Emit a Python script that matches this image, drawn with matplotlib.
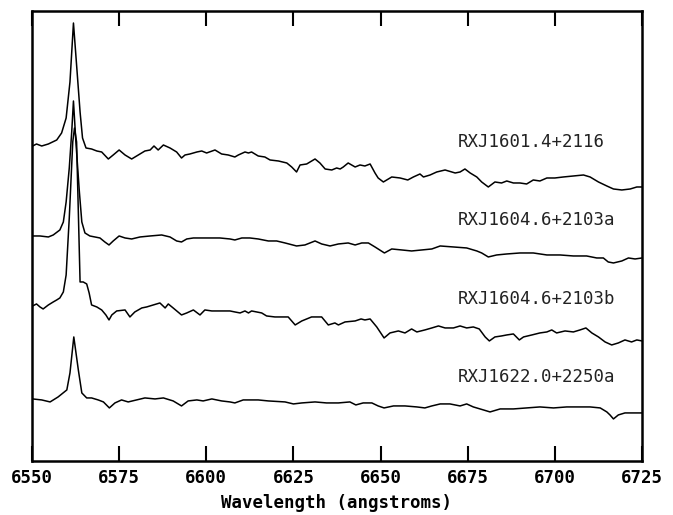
import matplotlib
matplotlib.use("Agg")
import matplotlib.pyplot as plt

# spectra: wavelength (angstroms) and offset relative flux
wave1 = [6550.2, 6551.3, 6552.8, 6554.7, 6557.1, 6558.5, 6559.8, 6560.9, 6561.9, 6562.8,
         6563.8, 6564.5, 6565.5, 6567.1, 6568.6, 6570.0, 6571.9, 6573.3, 6575.0, 6576.7,
         6578.6, 6580.5, 6582.4, 6583.9, 6585.0, 6586.2, 6587.7, 6589.6, 6591.5, 6592.9,
         6593.9, 6595.3, 6597.3, 6598.7, 6600.1, 6602.5, 6604.4, 6606.3, 6608.2, 6609.2,
         6611.1, 6612.1, 6613.0, 6614.9, 6616.8, 6618.3, 6620.7, 6623.1, 6624.5, 6625.9,
         6626.9, 6628.8, 6631.2, 6632.6, 6634.1, 6636.0, 6637.4, 6638.4, 6639.3, 6640.7,
         6642.7, 6644.1, 6645.5, 6647.0, 6648.4, 6649.3, 6650.8, 6653.2, 6655.6, 6657.8,
         6659.4, 6661.3, 6662.3, 6664.2, 6666.1, 6668.5, 6671.4, 6672.8, 6674.2, 6675.7,
         6677.6, 6679.0, 6680.9, 6682.8, 6684.7, 6686.2, 6688.1, 6690.0, 6691.9, 6693.8,
         6695.7, 6697.7, 6700.0, 6702.4, 6705.3, 6708.2, 6710.1, 6712.5, 6714.9, 6716.8,
         6719.2, 6721.6, 6723.5, 6725.0]
flux1 = [3.15, 3.17, 3.15, 3.17, 3.21, 3.28, 3.43, 3.79, 4.38, 3.96,
         3.49, 3.23, 3.13, 3.12, 3.10, 3.09, 3.02, 3.06, 3.11, 3.06,
         3.02, 3.06, 3.10, 3.11, 3.15, 3.11, 3.16, 3.13, 3.09, 3.03,
         3.06, 3.07, 3.09, 3.10, 3.08, 3.11, 3.07, 3.06, 3.04, 3.06,
         3.09, 3.08, 3.09, 3.05, 3.04, 3.01, 3.00, 2.98, 2.94, 2.89,
         2.96, 2.97, 3.02, 2.98, 2.92, 2.91, 2.93, 2.92, 2.94, 2.98,
         2.94, 2.96, 2.95, 2.97, 2.88, 2.83, 2.79, 2.84, 2.83, 2.81,
         2.84, 2.87, 2.84, 2.86, 2.89, 2.91, 2.88, 2.89, 2.92, 2.88,
         2.84, 2.79, 2.74, 2.79, 2.78, 2.80, 2.78, 2.78, 2.77, 2.81,
         2.80, 2.83, 2.83, 2.84, 2.85, 2.86, 2.84, 2.79, 2.75, 2.72,
         2.71, 2.72, 2.74, 2.74]

wave2 = [6550.4, 6552.3, 6554.7, 6556.1, 6558.0, 6559.0, 6559.8, 6560.7, 6561.4, 6561.9,
         6562.6, 6563.6, 6564.3, 6565.2, 6566.6, 6569.5, 6570.9, 6572.1, 6573.3, 6575.0,
         6576.7, 6578.6, 6581.0, 6583.9, 6587.2, 6589.6, 6591.5, 6592.9, 6594.4, 6596.3,
         6599.1, 6601.6, 6603.9, 6606.8, 6608.2, 6610.2, 6612.5, 6614.9, 6617.8, 6620.2,
         6622.6, 6625.9, 6628.3, 6631.2, 6633.1, 6635.5, 6637.9, 6640.7, 6642.7, 6644.6,
         6646.5, 6648.4, 6651.1, 6653.2, 6656.1, 6658.9, 6661.8, 6664.7, 6667.1, 6670.9,
         6674.7, 6677.6, 6679.0, 6680.9, 6683.3, 6686.2, 6690.0, 6693.8, 6697.7, 6701.5,
         6705.3, 6709.1, 6712.0, 6713.9, 6715.3, 6716.8, 6719.2, 6721.1, 6723.0, 6725.0]
flux2 = [2.25, 2.25, 2.24, 2.26, 2.31, 2.39, 2.59, 2.93, 3.29, 3.60,
         3.19, 2.69, 2.39, 2.28, 2.25, 2.23, 2.19, 2.16, 2.20, 2.25,
         2.23, 2.22, 2.24, 2.25, 2.26, 2.24, 2.20, 2.19, 2.22, 2.23,
         2.23, 2.23, 2.23, 2.22, 2.21, 2.23, 2.23, 2.22, 2.20, 2.20,
         2.18, 2.15, 2.16, 2.20, 2.17, 2.15, 2.17, 2.18, 2.16, 2.18,
         2.18, 2.14, 2.08, 2.12, 2.11, 2.10, 2.11, 2.12, 2.15, 2.14,
         2.13, 2.10, 2.08, 2.04, 2.06, 2.07, 2.08, 2.08, 2.06, 2.06,
         2.05, 2.05, 2.03, 2.03, 1.99, 1.98, 2.00, 2.03, 2.02, 2.03]

wave3 = [6550.2, 6551.3, 6552.3, 6553.2, 6554.7, 6556.1, 6557.1, 6558.0, 6559.0, 6559.8,
         6560.7, 6561.7, 6562.2, 6562.8, 6563.8, 6564.7, 6565.7, 6566.4, 6567.1, 6568.6,
         6570.0, 6571.2, 6572.1, 6572.9, 6574.3, 6576.7, 6578.1, 6579.5, 6581.5, 6582.9,
         6584.8, 6586.7, 6588.2, 6589.1, 6590.5, 6592.9, 6594.4, 6596.3, 6598.2, 6599.6,
         6601.6, 6604.4, 6606.8, 6608.2, 6609.7, 6611.1, 6612.1, 6613.0, 6615.9, 6617.3,
         6619.7, 6623.5, 6625.5, 6627.4, 6630.2, 6633.1, 6635.0, 6636.9, 6637.9, 6639.8,
         6642.7, 6644.4, 6645.5, 6647.0, 6648.9, 6651.0, 6652.7, 6655.1, 6657.0, 6658.9,
         6660.4, 6662.7, 6664.7, 6666.6, 6668.5, 6670.9, 6672.8, 6674.7, 6676.6, 6678.3,
         6680.0, 6681.2, 6682.8, 6684.7, 6686.2, 6688.1, 6689.8, 6691.0, 6693.4, 6695.7,
         6697.7, 6699.1, 6700.5, 6702.9, 6705.3, 6707.2, 6708.9, 6710.6, 6712.5, 6714.4,
         6716.3, 6718.2, 6720.1, 6722.0, 6723.5, 6725.0]
flux3 = [1.55, 1.57, 1.54, 1.52, 1.56, 1.59, 1.61, 1.63, 1.69, 1.86,
         2.43, 3.19, 3.33, 3.19, 1.79, 1.79, 1.77, 1.68, 1.56, 1.54,
         1.51, 1.46, 1.41, 1.46, 1.50, 1.51, 1.44, 1.49, 1.53, 1.54,
         1.56, 1.58, 1.53, 1.57, 1.53, 1.46, 1.48, 1.51, 1.46, 1.51,
         1.50, 1.50, 1.50, 1.49, 1.48, 1.50, 1.48, 1.50, 1.48, 1.45,
         1.44, 1.44, 1.36, 1.40, 1.44, 1.44, 1.36, 1.38, 1.36, 1.39,
         1.40, 1.42, 1.41, 1.42, 1.34, 1.23, 1.28, 1.30, 1.28, 1.32,
         1.29, 1.31, 1.33, 1.35, 1.33, 1.33, 1.35, 1.33, 1.34, 1.32,
         1.24, 1.20, 1.24, 1.25, 1.26, 1.27, 1.21, 1.24, 1.26, 1.28,
         1.29, 1.31, 1.28, 1.30, 1.29, 1.31, 1.33, 1.28, 1.24, 1.19,
         1.16, 1.18, 1.21, 1.19, 1.21, 1.20]

wave4 = [6550.2, 6552.8, 6555.2, 6557.5, 6560.0, 6560.9, 6562.0, 6563.3, 6564.3, 6565.7,
         6567.1, 6569.0, 6570.5, 6572.2, 6573.8, 6575.7, 6577.6, 6580.0, 6582.4, 6585.3,
         6587.7, 6590.5, 6592.9, 6594.8, 6597.3, 6599.1, 6601.6, 6604.4, 6606.8, 6608.2,
         6610.6, 6614.9, 6617.8, 6622.6, 6625.0, 6627.4, 6631.2, 6634.5, 6637.9, 6641.2,
         6642.9, 6645.0, 6647.5, 6649.3, 6651.0, 6653.7, 6657.0, 6660.4, 6662.7, 6664.7,
         6667.1, 6669.9, 6672.8, 6674.7, 6676.6, 6679.5, 6681.4, 6684.3, 6688.1, 6691.9,
         6695.7, 6699.6, 6703.4, 6707.2, 6710.1, 6713.0, 6714.9, 6715.8, 6716.8, 6718.2,
         6720.1, 6722.5, 6725.0]
flux4 = [0.62, 0.61, 0.59, 0.64, 0.71, 0.88, 1.24, 0.91, 0.68, 0.63,
         0.63, 0.61, 0.59, 0.53, 0.58, 0.61, 0.59, 0.61, 0.63, 0.62,
         0.63, 0.60, 0.55, 0.60, 0.61, 0.60, 0.62, 0.60, 0.59, 0.58,
         0.61, 0.61, 0.60, 0.59, 0.57, 0.58, 0.59, 0.58, 0.58, 0.59,
         0.56, 0.58, 0.58, 0.55, 0.53, 0.55, 0.55, 0.54, 0.53, 0.55,
         0.57, 0.57, 0.55, 0.57, 0.54, 0.51, 0.49, 0.52, 0.52, 0.53,
         0.54, 0.53, 0.54, 0.54, 0.54, 0.53, 0.49, 0.46, 0.42, 0.46,
         0.48, 0.48, 0.48]

names = ["RXJ1601.4+2116", "RXJ1604.6+2103a", "RXJ1604.6+2103b", "RXJ1622.0+2250a"]
label_y = [3.19, 2.405, 1.62, 0.835]
label_x = 6672.1
xticks = [6550, 6575, 6600, 6625, 6650, 6675, 6700, 6725]

fig = plt.figure(figsize=(6.73, 5.15), dpi=100)
ax = fig.add_axes([0.0475, 0.105, 0.9065, 0.8736])

for w, f in [(wave1, flux1), (wave2, flux2), (wave3, flux3), (wave4, flux4)]:
    ax.plot(w, f, color="black", lw=1.1)

for name, y in zip(names, label_y):
    ax.text(label_x, y, name, family="DejaVu Sans Mono", fontsize=12.5,
            va="center", ha="left", color="#222222")

ax.set_xlim(6550, 6725)
ax.set_ylim(0, 4.5)
ax.set_xticks(xticks)
ax.set_yticks([])
ax.tick_params(axis="x", direction="in", length=11, width=1.5, top=True,
               labelsize=12.5, pad=6)
for lab in ax.get_xticklabels():
    lab.set_family("DejaVu Sans Mono")
    lab.set_fontweight("bold")
for s in ax.spines.values():
    s.set_linewidth(1.8)

fig.text(0.5, 0.0136, "Wavelength (angstroms)", family="DejaVu Sans Mono",
         fontweight="bold", fontsize=12.5, ha="center", va="baseline")

fig.savefig("out.png", dpi=100)
